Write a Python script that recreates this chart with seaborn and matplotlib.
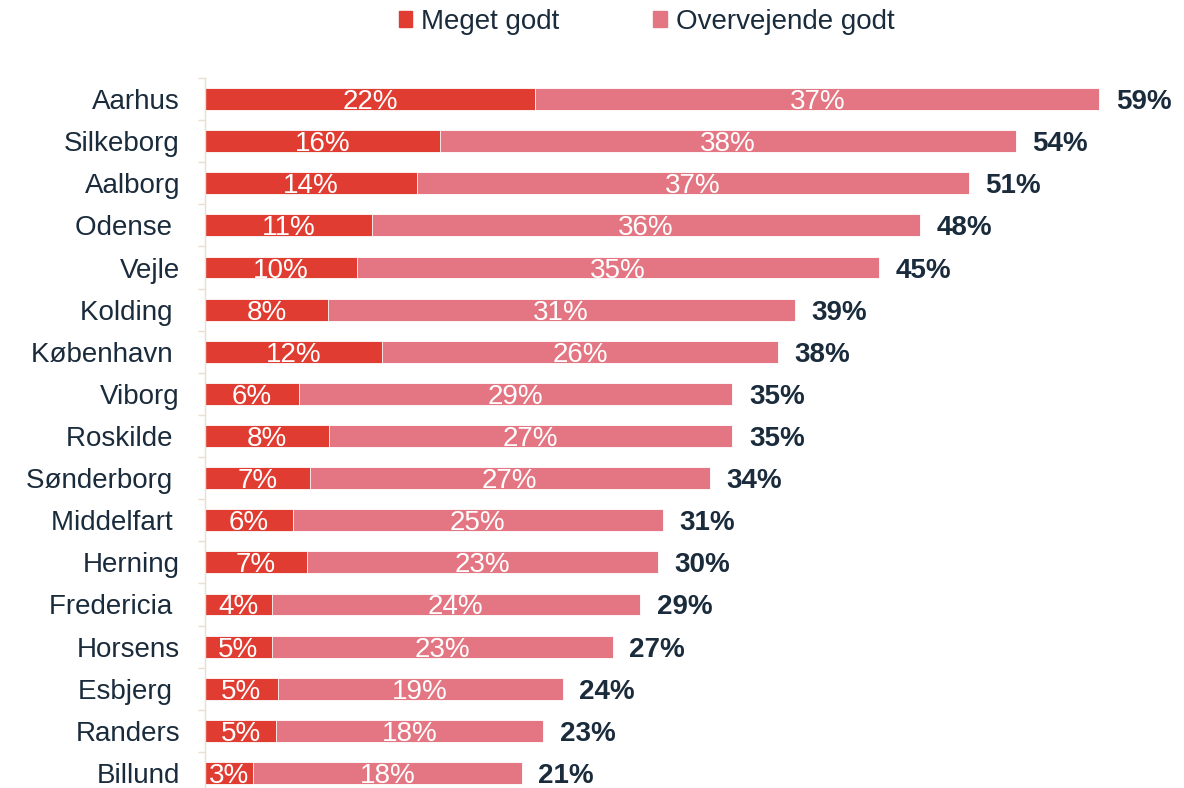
import seaborn as sns
import matplotlib.pyplot as plt
from matplotlib.patches import Patch

# data
byer = ['Aarhus', 'Silkeborg', 'Aalborg', 'Odense ', 'Vejle', 'Kolding ', 'København ',
        'Viborg', 'Roskilde ', 'Sønderborg ', 'Middelfart ', 'Herning', 'Fredericia ',
        'Horsens', 'Esbjerg ', 'Randers', 'Billund']
meget_godt = [21.8, 15.5, 14.0, 11.0, 10.0, 8.1, 11.7, 6.2, 8.2, 6.9, 5.8, 6.7, 4.4, 4.4, 4.8, 4.7, 3.2]
i_alt = [59.0, 53.5, 50.4, 47.2, 44.5, 38.9, 37.8, 34.8, 34.8, 33.3, 30.2, 29.9, 28.7, 26.9, 23.6, 22.3, 20.9]
lbl_meget = [22, 16, 14, 11, 10, 8, 12, 6, 8, 7, 6, 7, 4, 5, 5, 5, 3]
lbl_over = [37, 38, 37, 36, 35, 31, 26, 29, 27, 27, 25, 23, 24, 23, 19, 18, 18]
lbl_total = [59, 54, 51, 48, 45, 39, 38, 35, 35, 34, 31, 30, 29, 27, 24, 23, 21]

RED = '#E03C31'
PINK = '#E37682'
NAVY = '#1A2B3C'

sns.set_style('white')
plt.rcParams['font.family'] = ['Liberation Sans', 'DejaVu Sans']

fig = plt.figure(figsize=(11.84, 7.88), dpi=100)
ax = fig.add_axes([205 / 1184, 1 - 794 / 788, 979 / 1184, 716 / 788])

sns.barplot(x=i_alt, y=byer, orient='h', color=PINK, width=0.52, ax=ax,
            edgecolor='white', linewidth=0.6, saturation=1)
sns.barplot(x=meget_godt, y=byer, orient='h', color=RED, width=0.52, ax=ax,
            edgecolor='white', linewidth=0.6, saturation=1)

for i in range(len(byer)):
    ax.text(meget_godt[i] / 2, i, f'{lbl_meget[i]}%', ha='center', va='center_baseline',
            color='white', fontsize=20)
    ax.text((meget_godt[i] + i_alt[i]) / 2, i, f'{lbl_over[i]}%', ha='center',
            va='center_baseline', color='white', fontsize=20)
    ax.text(i_alt[i] + 1.1, i, f'{lbl_total[i]}%', ha='left', va='center_baseline',
            color=NAVY, fontsize=20, fontweight='bold')

ax.set_xlim(0, 64.6)
ax.set_ylim(16.5, -0.5)
ax.set_xticks([])
ax.set_xlabel('')
ax.set_ylabel('')
for s in ['top', 'right', 'bottom']:
    ax.spines[s].set_visible(False)
ax.spines['left'].set_color('#EADFCF')
ax.spines['left'].set_linewidth(1)
ax.set_yticks([i + 0.5 for i in range(-1, len(byer))], minor=True)
ax.tick_params(axis='y', which='minor', length=5, color='#EADFCF', width=1, left=True)
ax.tick_params(axis='y', which='major', length=0, pad=18, labelsize=20, labelcolor=NAVY)

handles = [Patch(color=RED, label='Meget godt'), Patch(color=PINK, label='Overvejende godt')]
fig.legend(handles=handles, loc='center', bbox_to_anchor=(0.546, 0.972), ncol=2,
           frameon=False, fontsize=20, labelcolor=NAVY, handlelength=0.5,
           handleheight=0.5, handletextpad=0.3, columnspacing=3.4)

fig.savefig('out.png', dpi=100)
